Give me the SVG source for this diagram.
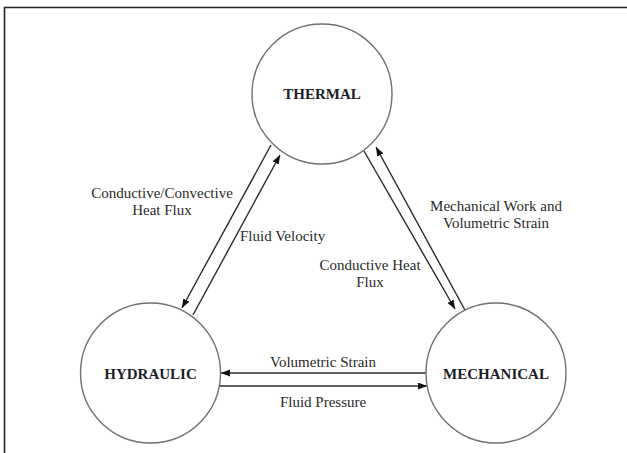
<svg xmlns="http://www.w3.org/2000/svg" width="627" height="453" viewBox="0 0 627 453">
<style>
.node circle{fill:#fff;stroke:#707070;stroke-width:1.4}
.title{font-family:"Liberation Serif","Times New Roman",serif;font-weight:bold;font-size:15px;fill:#1c1c28;text-anchor:middle}
.lbl{font-family:"Liberation Serif","Times New Roman",serif;font-size:15px;fill:#2a2a2a}
.mid{text-anchor:middle}
.conn line{stroke:#2a2a2a;stroke-width:1.4;marker-end:url(#ah)}
</style>
<defs>
<marker id="ah" markerUnits="userSpaceOnUse" markerWidth="10" markerHeight="8" refX="9" refY="3.5" orient="auto"><path d="M0,0 L9,3.5 L0,7 z" fill="#111"/></marker>
</defs>
<rect width="627" height="453" fill="#fff"/>
<path d="M4.5,453 V7.5 H627" fill="none" stroke="#222" stroke-width="1.6"/>
<g id="connectors" class="conn">
<line x1="271" y1="145" x2="182" y2="308"/>
<line x1="193" y1="315" x2="280" y2="155"/>
<line x1="364" y1="151" x2="455" y2="309"/>
<line x1="466" y1="312" x2="376" y2="147"/>
<line x1="427" y1="373" x2="221" y2="373"/>
<line x1="220" y1="386" x2="427" y2="386"/>
</g>
<g id="thermal" class="node"><circle cx="322" cy="94" r="70"/><text class="title" x="322" y="99">THERMAL</text></g>
<g id="hydraulic" class="node"><circle cx="150.5" cy="373" r="70"/><text class="title" x="150.5" y="379">HYDRAULIC</text></g>
<g id="mechanical" class="node"><circle cx="496" cy="373" r="70"/><text class="title" x="496" y="379">MECHANICAL</text></g>
<g id="labels" class="lbl">
<text class="mid" x="162" y="198">Conductive/Convective</text>
<text class="mid" x="162" y="215">Heat Flux</text>
<text x="240" y="241">Fluid Velocity</text>
<text class="mid" x="496" y="211">Mechanical Work and</text>
<text class="mid" x="496" y="228">Volumetric Strain</text>
<text class="mid" x="370" y="270">Conductive Heat</text>
<text class="mid" x="370" y="287">Flux</text>
<text class="mid" x="323" y="367">Volumetric Strain</text>
<text class="mid" x="323" y="407">Fluid Pressure</text>
</g>
</svg>
